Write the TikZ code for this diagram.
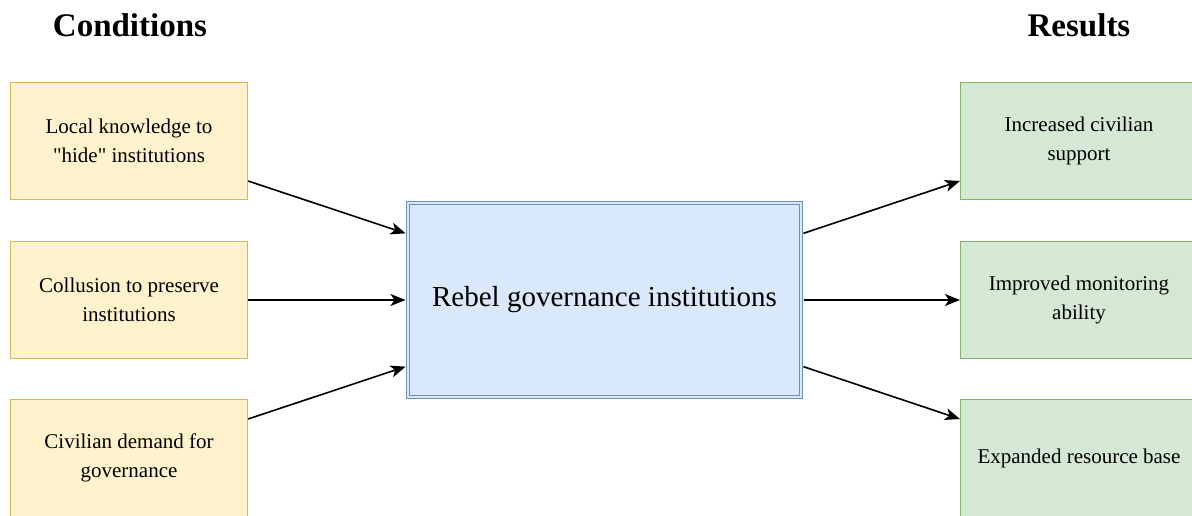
\documentclass[tikz,border=0pt]{standalone}
\usepackage{fontspec}
\setmainfont{Liberation Serif}
\newfontfamily\qfont{Liberation Serif}
\usetikzlibrary{arrows.meta}
\definecolor{yfill}{HTML}{FFF2CC}
\definecolor{ydraw}{HTML}{D6B656}
\definecolor{bfill}{HTML}{DAE8FC}
\definecolor{bdraw}{HTML}{6C8EBF}
\definecolor{gfill}{HTML}{D5E8D4}
\definecolor{gdraw}{HTML}{82B366}
\tikzset{
  box/.style={draw, line width=1.2pt, minimum width=237pt, minimum height=117pt,
    inner sep=0pt, align=center, font=\fontsize{21}{29}\selectfont},
  cond/.style={box, fill=yfill, draw=ydraw},
  res/.style={box, fill=gfill, draw=gdraw},
  core/.style={draw=bdraw, double=bfill, double distance=2.6pt, line width=1pt,
    fill=bfill, minimum width=393pt, minimum height=194pt, inner sep=0pt,
    font=\fontsize{29}{34}\selectfont},
  title/.style={font=\bfseries\fontsize{33}{38}\selectfont, inner sep=0pt},
  arr/.style={line width=1.6pt, -{Stealth[length=15pt,width=12pt,inset=4pt]}}
}
\begin{document}
\begin{tikzpicture}[x=1pt,y=-1pt]
\useasboundingbox (0,0) rectangle (1192,516);
\clip (0,0) rectangle (1192,516);
\node[title] (tc) at (130,25) {Conditions};
\node[title] (tr) at (1079,25) {Results};

\node[cond] (l1) at (129,141) {Local knowledge to\\{\qfont"hide"} institutions};
\node[cond] (l2) at (129,300) {Collusion to preserve\\institutions};
\node[cond] (l3) at (129,458) {Civilian demand for\\governance};

\node[res] (r1) at (1079,141) {Increased civilian\\support};
\node[res] (r2) at (1079,300) {Improved monitoring\\ability};
\node[res] (r3) at (1079,458) {Expanded resource base};

\node[core] (c) at (604.5,300) {Rebel governance institutions};

\draw[arr, shorten >=2pt] ([yshift=-40pt]l1.east) -- ([yshift=66pt]c.west);
\draw[arr, shorten >=2pt] (l2.east) -- (c.west);
\draw[arr, shorten >=2pt] ([yshift=39pt]l3.east) -- ([yshift=-66pt]c.west);
\draw[arr, shorten <=2pt] ([yshift=66pt]c.east) -- ([yshift=-40pt]r1.west);
\draw[arr, shorten <=2pt] (c.east) -- (r2.west);
\draw[arr, shorten <=2pt] ([yshift=-66pt]c.east) -- ([yshift=39pt]r3.west);
\end{tikzpicture}
\end{document}
